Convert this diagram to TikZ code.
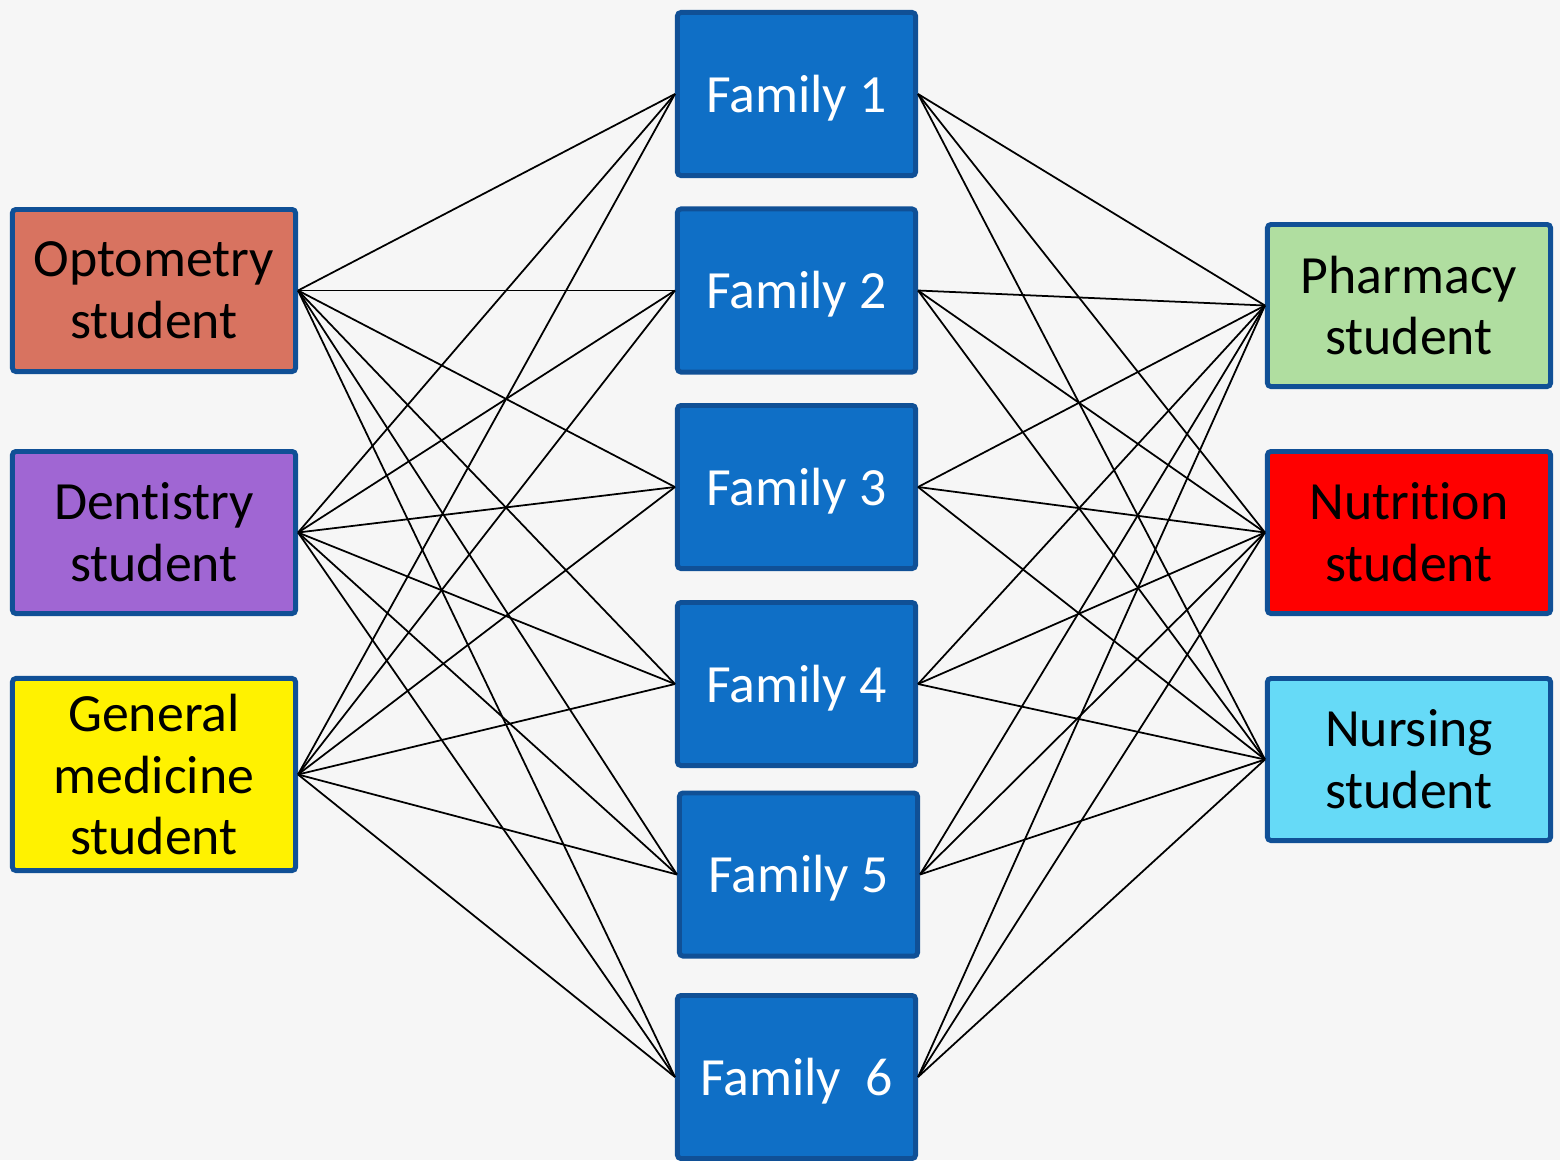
\documentclass[tikz,border=0pt]{standalone}
\usepackage{fontspec}
\setmainfont{Carlito}[Ligatures=NoCommon]
\definecolor{bgpaper}{RGB}{246,246,246}
\definecolor{rimblue}{RGB}{16,80,150}
\definecolor{famblue}{RGB}{15,111,198}
\definecolor{optocol}{RGB}{216,115,96}
\definecolor{dentcol}{RGB}{160,102,211}
\definecolor{pharmcol}{RGB}{176,222,160}
\definecolor{nursecol}{RGB}{102,218,247}
\begin{document}
\begin{tikzpicture}[x=0.01cm,y=-0.01cm,
    box style/.style={draw=rimblue,line width=1.4pt,rounded corners=1pt,align=center,
        inner sep=0pt,font=\fontsize{15.3}{17.6}\selectfont},
    student/.style={box style,minimum width=2.83cm,minimum height=1.62cm},
    family/.style={box style,fill=famblue,text=white,minimum width=2.38cm,minimum height=1.63cm,
        text height=13.5pt,text depth=3pt},
    link/.style={line width=0.5pt,black}]
        \useasboundingbox[fill=bgpaper] (0,0) rectangle (1560,1160);
        % left column
        \node[student,fill=optocol] (opt) at (154,290.5) {Optometry\\student};
        \node[student,fill=dentcol] (den) at (154,532.5) {Dentistry\\student};
        \node[student,fill=yellow,minimum height=1.92cm] (gen) at (154,774.5) {General\\medicine\\student};
        % families
        \node[family] (fam1) at (796.5,94) {Family 1};
        \node[family] (fam2) at (796.5,290.5) {Family 2};
        \node[family] (fam3) at (796.5,487) {Family 3};
        \node[family] (fam4) at (796.5,684) {Family 4};
        \node[family] (fam5) at (798.5,874.5) {Family 5};
        \node[family] (fam6) at (796.5,1077) {Family~~6};
        % right column
        \node[student,fill=pharmcol] (pha) at (1409,305.5) {Pharmacy\\student};
        \node[student,fill=red] (nut) at (1409,532.5) {Nutrition\\student};
        \node[student,fill=nursecol] (nur) at (1409,759.5) {Nursing\\student};
        \foreach \s in {opt,den,gen}
            \foreach \f in {1,...,6}
                \draw[link] (\s.east) -- (fam\f.west);
        \foreach \t in {pha,nut,nur}
            \foreach \f in {1,...,6}
                \draw[link] (fam\f.east) -- (\t.west);
\end{tikzpicture}
\end{document}
